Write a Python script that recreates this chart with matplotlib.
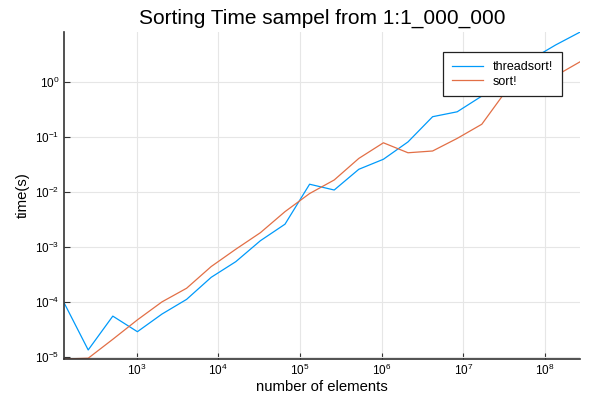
import numpy as np
import matplotlib.pyplot as plt
from matplotlib.ticker import FixedLocator, NullLocator

plt.rcParams['font.family'] = ['Liberation Sans', 'DejaVu Sans']
plt.rcParams['mathtext.fontset'] = 'custom'
plt.rcParams['mathtext.rm'] = 'Liberation Sans'

# sizes are powers of two, 2^7 .. 2^28
exponents = list(range(7, 29))
sizes = [2 ** k for k in exponents]

threadsort_t = [1.0e-4, 1.33e-5, 5.5e-5, 2.86e-5, 6.0e-5, 1.11e-4, 2.8e-4, 5.4e-4,
                1.3e-3, 2.6e-3, 1.39e-2, 1.09e-2, 2.6e-2, 3.96e-2, 8.2e-2, 0.236,
                0.29, 0.56, 1.2, 2.6, 4.78, 8.24]
sort_t = [9.1e-6, 9.4e-6, 2.08e-5, 4.7e-5, 1.0e-4, 1.77e-4, 4.4e-4, 9.1e-4,
          1.82e-3, 4.4e-3, 9.4e-3, 1.66e-2, 4.1e-2, 7.9e-2, 5.2e-2, 5.6e-2,
          9.5e-2, 0.172, 0.71, 1.0, 1.31, 2.37]

xticks = [1e3, 1e4, 1e5, 1e6, 1e7, 1e8]
yticks = [1e-5, 1e-4, 1e-3, 1e-2, 1e-1, 1e0]

fig = plt.figure(figsize=(6, 4), dpi=100)
ax = fig.add_axes([0.106, 0.1025, 0.861, 0.8175])

ax.plot(sizes, threadsort_t, color='#009AFA', lw=0.9, label='threadsort!')
ax.plot(sizes, sort_t, color='#E26F46', lw=0.9, label='sort!')

ax.set_xscale('log')
ax.set_yscale('log')
ax.set_xlim(min(sizes), max(sizes))
ax.set_ylim(min(sort_t), max(threadsort_t))
ax.xaxis.set_major_locator(FixedLocator(xticks))
ax.yaxis.set_major_locator(FixedLocator(yticks))
ax.xaxis.set_minor_locator(NullLocator())
ax.yaxis.set_minor_locator(NullLocator())

ax.grid(True, color='#e6e6e6', lw=0.8)
ax.set_axisbelow(True)
for s in ['top', 'right']:
    ax.spines[s].set_visible(False)
for s in ['left', 'bottom']:
    ax.spines[s].set_color('#333333')
    ax.spines[s].set_linewidth(1.2)
ax.tick_params(direction='in', length=4, width=0.8, color='#333333',
               labelsize=8.5, pad=3)

ax.set_title('Sorting Time sampel from 1:1_000_000', fontsize=15, pad=6)
ax.set_xlabel('number of elements', fontsize=10.7, labelpad=1)
ax.set_ylabel('time(s)', fontsize=10.7, labelpad=4)

leg = ax.legend(loc='upper right', bbox_to_anchor=(0.977, 0.957), fontsize=9,
                fancybox=False, framealpha=1, edgecolor='#222222',
                handlelength=2.5, borderpad=0.7, labelspacing=0.2)
leg.get_frame().set_linewidth(0.9)

plt.savefig('out.png', dpi=100)
